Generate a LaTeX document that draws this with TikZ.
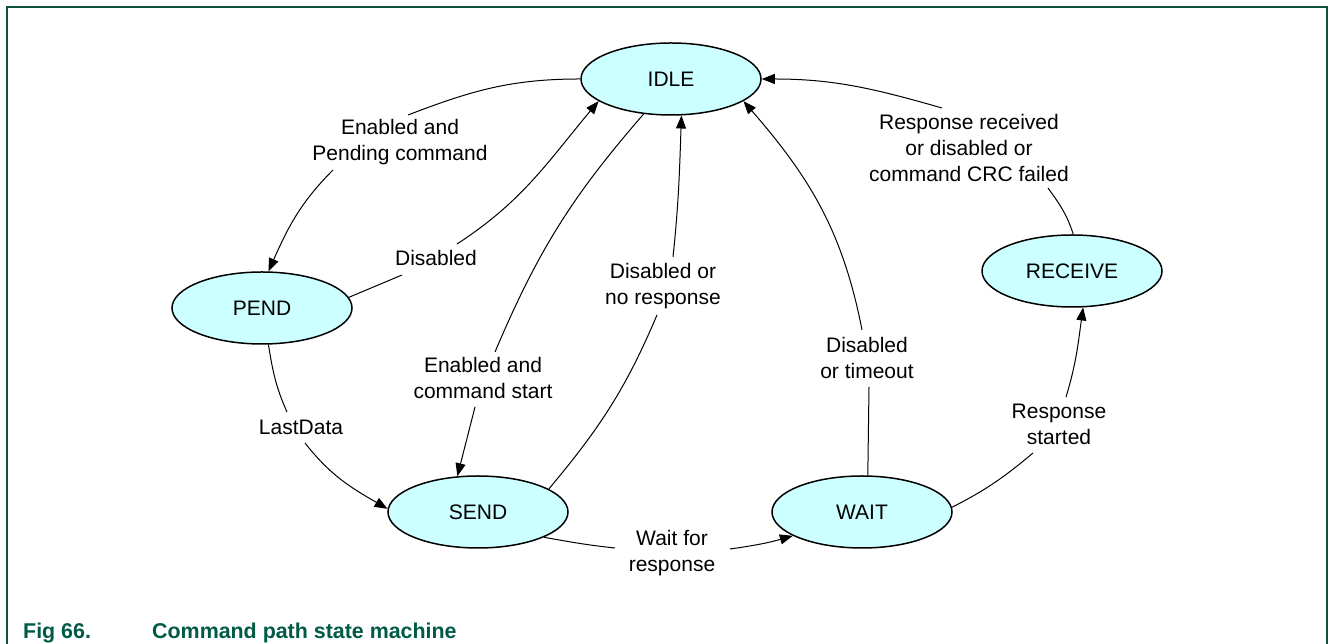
\documentclass[tikz,border=0pt]{standalone}
\usepackage{fontspec}
\setmainfont{Liberation Sans}
\usetikzlibrary{shapes.geometric,arrows.meta}
\definecolor{framegreen}{RGB}{16,80,62}
\definecolor{captiongreen}{RGB}{0,90,70}
\definecolor{statefill}{RGB}{204,255,255}
\begin{document}
\begin{tikzpicture}[x=1pt,y=1pt,
  state/.style={ellipse,draw=black,line width=1.5pt,fill=statefill,minimum width=180pt,minimum height=72pt,inner sep=0pt,font=\fontsize{21}{26}\selectfont},
  lbl/.style={align=center,inner sep=0pt,font=\fontsize{21}{26}\selectfont},
  conn/.style={draw=black,line width=1pt},
  arr/.style={conn,-{Triangle[length=13pt,width=10pt]}}
]
\useasboundingbox (0,0) rectangle (1328,644);
\draw[framegreen,line width=2pt] (6.5,0) -- (6.5,637) -- (1327,637) -- (1327,0);

% states
\node[state] (idle) at (671,565) {IDLE};
\node[state] (pend) at (262,336) {PEND};
\node[state] (send) at (478,132) {SEND};
\node[state] (wait) at (862,132) {WAIT};
\node[state] (recv) at (1072,373) {RECEIVE};

% labels
\node[lbl] (l1) at (400,502) {Enabled and\\Pending command};
\node[lbl] (l2) at (436,386) {Disabled};
\node[lbl] (l3) at (663,358) {Disabled or\\no response};
\node[lbl] (l4) at (483,266) {Enabled and\\command start};
\node[lbl] (l5) at (301,217) {LastData};
\node[lbl] (l6) at (867,286) {Disabled\\or timeout};
\node[lbl] (l7) at (1059,220) {Response\\started};
\node[lbl] (l8) at (672,91) {Wait for\\response};
\node[lbl] (l9) at (969,496) {Response received\\or disabled or\\command CRC failed};

% IDLE -> PEND
\draw[conn] (idle.180) to[out=180,in=21] ([shift={(8,27)}]l1.center);
\draw[arr] ([shift={(-67,-28)}]l1.center) to[out=225,in=66] (pend.80);
% PEND -> IDLE
\draw[conn] (pend.7) -- ([shift={(-34,-17)}]l2.center);
\draw[arr] ([shift={(21,14)}]l2.center) to[out=33,in=230] (idle.197);
% IDLE -> SEND
\draw[conn] (idle.232) to[out=229,in=67] ([shift={(12,26)}]l4.center);
\draw[arr] ([shift={(-8,-29)}]l4.center) -- (send.120);
% SEND -> IDLE
\draw[conn] (send.18) to[out=50,in=247] ([shift={(-6,-29)}]l3.center);
\draw[arr] ([shift={(10,29)}]l3.center) to[out=84,in=268] (idle.286);
% PEND -> SEND
\draw[conn] (pend.280) to[out=279,in=114] ([shift={(-14,15)}]l5.center);
\draw[arr] ([shift={(4,-16)}]l5.center) to[out=308,in=150] (send.178);
% SEND -> WAIT
\draw[conn] (send.339) to[out=-10,in=174] ([shift={(-57,5)}]l8.center);
\draw[arr] ([shift={(58,4)}]l8.center) to[out=8,in=196] (wait.199);
% WAIT -> IDLE
\draw[conn] (wait.81) -- ([shift={(2,-29)}]l6.center);
\draw[arr] ([shift={(-5,28)}]l6.center) to[out=101,in=311] (idle.343);
% WAIT -> RECEIVE
\draw[conn] (wait.3) to[out=27,in=220] ([shift={(-26,-29)}]l7.center);
\draw[arr] ([shift={(7,27)}]l7.center) to[out=73,in=262] (recv.287);
% RECEIVE -> IDLE
\draw[conn] (recv.88) to[out=108,in=306] ([shift={(79,-40)}]l9.center);
\draw[arr] ([shift={(-27,40)}]l9.center) to[out=164,in=0] (idle.east);

% caption
\node[anchor=base west,text=captiongreen,inner sep=0pt,font=\bfseries\fontsize{21.4}{26}\selectfont] (cap) at (23,5) {\makebox[129pt][l]{Fig 66.}Command path state machine};
\end{tikzpicture}
\end{document}
